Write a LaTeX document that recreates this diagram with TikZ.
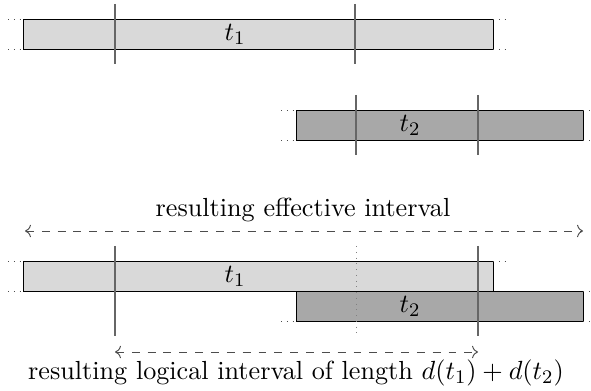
\documentclass[tikz,border=0pt]{standalone}
\usetikzlibrary{arrows.meta}
\begin{document}
\begin{tikzpicture}[x=0.4167pt,y=-0.4167pt,
  font=\fontsize{10.9}{13}\selectfont,
  boxone/.style={draw=black,fill=black!15,line width=0.4pt},
  boxtwo/.style={draw=black,fill=black!34,line width=0.4pt},
  vline/.style={draw=black!60,line width=0.65pt},
  stub/.style={draw=black!70,dotted,line width=0.4pt},
  span/.style={draw=black!70,dash pattern=on 3.3pt off 3.3pt,line width=0.4pt,<->},
  lbl/.style={inner sep=0pt}]
\useasboundingbox (0,0) rectangle (591,391);
% ---- top t1
\draw[boxone] (23,19) rectangle (493,49);
\node[lbl] (ta) at (235,34) {$t_1$};
\draw[vline] (115,4) -- (115,64);
\draw[vline] (355,4) -- (355,64);
\draw[stub] (8,19) -- (23,19); \draw[stub] (8,49) -- (23,49);
\draw[stub] (493,19) -- (508,19); \draw[stub] (493,49) -- (508,49);
% ---- t2
\draw[boxtwo] (296,110) rectangle (583,140);
\node[lbl] (tb) at (410,125) {$t_2$};
\draw[vline] (356,95) -- (356,155);
\draw[vline] (478,95) -- (478,155);
\draw[stub] (281,110) -- (296,110); \draw[stub] (281,140) -- (296,140);
\draw[stub] (583,110) -- (598,110); \draw[stub] (583,140) -- (598,140);
% ---- combined
\node[lbl] (eff) at (303,210) {resulting effective interval};
\coordinate (ea) at (25,231); \coordinate (eb) at (583,231);
\draw[span] (ea) -- (eb);
\draw[boxone] (23,261) rectangle (493,291);
\node[lbl] (tc) at (235,276) {$t_1$};
\draw[boxtwo] (296,291) rectangle (583,321);
\node[lbl] (td) at (410,306) {$t_2$};
\draw[vline] (115,246) -- (115,336);
\draw[vline] (478,246) -- (478,336);
\draw[draw=black!50,dotted,line width=0.4pt] (356,246) -- (356,336);
\draw[stub] (8,261) -- (23,261); \draw[stub] (8,291) -- (23,291);
\draw[stub] (493,261) -- (508,261);
\draw[stub] (281,321) -- (296,321);
\draw[stub] (583,291) -- (598,291); \draw[stub] (583,321) -- (598,321);
\coordinate (la) at (115,352); \coordinate (lb) at (478,352);
\draw[span] (la) -- (lb);
\node[lbl] (log) at (296,373) {resulting logical interval of length $d(t_1)+d(t_2)$};
\end{tikzpicture}
\end{document}
